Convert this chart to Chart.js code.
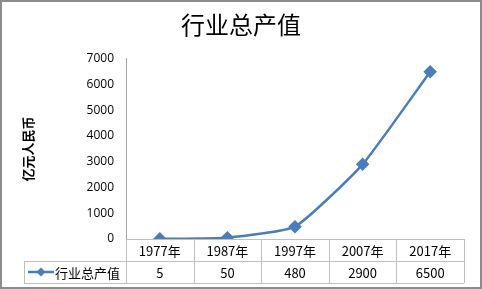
<!DOCTYPE html>
<html>
<head>
<meta charset="utf-8">
<script src="https://cdn.jsdelivr.net/npm/chart.js@4"></script>
<style>
  html, body { margin: 0; padding: 0; background: #fff; }
  canvas { display: block; }
</style>
</head>
<body>
<canvas id="chart" width="482" height="289"></canvas>
<script>
const years = ['1977年', '1987年', '1997年', '2007年', '2017年'];
const output = [5, 50, 480, 2900, 6500];
const seriesName = '行业总产值';
const yTicks = [0, 1000, 2000, 3000, 4000, 5000, 6000, 7000];

const lineColor = '#4a7ebb';
const tableLine = '#bfbfbf';
const cjk = '"Noto Sans CJK SC", "Noto Sans", sans-serif';

// outer frame of the chart object
const frame = {
  id: 'frame',
  afterDraw(chart) {
    const ctx = chart.ctx;
    ctx.save();
    ctx.strokeStyle = '#8c8c8c';
    ctx.lineWidth = 2;
    ctx.strokeRect(1, 1, chart.width - 2, chart.height - 2);
    ctx.restore();
  }
};

// draws the data table under the plot, Excel style
const dataTable = {
  id: 'dataTable',
  afterDraw(chart) {
    const ctx = chart.ctx;
    const area = chart.chartArea;
    const xs = chart.scales.x;
    const colW = (area.right - area.left) / years.length;
    const rowH = 22;
    const top = Math.round(area.bottom);
    const legendLeft = 24;

    ctx.save();
    ctx.strokeStyle = tableLine;
    ctx.lineWidth = 1;
    ctx.beginPath();
    ctx.moveTo(area.left, top + 0.5); ctx.lineTo(area.right, top + 0.5);
    ctx.moveTo(legendLeft, top + rowH + 0.5); ctx.lineTo(area.right, top + rowH + 0.5);
    ctx.moveTo(legendLeft, top + 2 * rowH + 0.5); ctx.lineTo(area.right, top + 2 * rowH + 0.5);
    for (let i = 0; i <= years.length; i++) {
      const x = Math.round(area.left + i * colW) + 0.5;
      ctx.moveTo(x, top); ctx.lineTo(x, top + 2 * rowH);
    }
    ctx.moveTo(legendLeft + 0.5, top + rowH); ctx.lineTo(legendLeft + 0.5, top + 2 * rowH);
    ctx.stroke();

    ctx.fillStyle = '#000';
    ctx.textAlign = 'center';
    ctx.textBaseline = 'middle';
    ctx.font = '13px ' + cjk;
    years.forEach((y, i) => {
      const x = xs.getPixelForValue(i);
      ctx.fillText(y, x, top + rowH / 2 + 1);
      ctx.fillText(String(output[i]), x, top + rowH * 1.5 + 1);
    });

    // legend key
    const ly = top + rowH * 1.5;
    ctx.strokeStyle = lineColor;
    ctx.lineWidth = 2.5;
    ctx.beginPath();
    ctx.moveTo(legendLeft + 4, ly); ctx.lineTo(legendLeft + 30, ly);
    ctx.stroke();
    ctx.fillStyle = lineColor;
    ctx.beginPath();
    const cx = legendLeft + 17;
    ctx.moveTo(cx, ly - 4.5); ctx.lineTo(cx + 4.5, ly); ctx.lineTo(cx, ly + 4.5); ctx.lineTo(cx - 4.5, ly);
    ctx.closePath();
    ctx.fill();
    ctx.fillStyle = '#000';
    ctx.textAlign = 'left';
    ctx.fillText(seriesName, legendLeft + 31, ly + 1);
    ctx.restore();
  }
};

new Chart(document.getElementById('chart'), {
  type: 'line',
  data: {
    labels: years,
    datasets: [{
      label: seriesName,
      data: output,
      borderColor: lineColor,
      backgroundColor: lineColor,
      borderWidth: 2.5,
      tension: 0.15,
      pointStyle: 'rectRot',
      pointRadius: 5,
      pointHoverRadius: 5
    }]
  },
  options: {
    responsive: false,
    animation: false,
    layout: { padding: { left: 0, right: 0, top: 0, bottom: 50 } },
    plugins: {
      legend: { display: false },
      tooltip: { enabled: false },
      title: {
        display: true,
        text: '行业总产值',
        color: '#000',
        font: { family: cjk, size: 24, weight: 'normal' },
        padding: { top: 10, bottom: 20 }
      }
    },
    scales: {
      x: {
        display: false,
        offset: true
      },
      y: {
        min: 0,
        max: 7000,
        afterFit(scale) { scale.width = 126; },
        afterBuildTicks(scale) { scale.ticks = yTicks.map(v => ({ value: v })); },
        grid: { display: false, drawTicks: false },
        border: { display: true, color: '#a6a6a6', width: 1 },
        ticks: {
          color: '#000',
          padding: 12,
          autoSkip: false,
          callback: v => String(v),
          font: { family: '"Open Sans", sans-serif', size: 12 }
        },
        title: {
          display: true,
          text: '亿元人民币',
          color: '#000',
          padding: { top: 20, bottom: 0 },
          font: { family: cjk, size: 13, weight: 'bold' }
        }
      },
      // empty right margin so the title stays centred on the whole canvas
      yRight: {
        position: 'right',
        display: true,
        afterFit(scale) { scale.width = 18; },
        grid: { display: false, drawTicks: false },
        border: { display: false },
        ticks: { display: false }
      }
    }
  },
  plugins: [dataTable, frame]
});
</script>
</body>
</html>
